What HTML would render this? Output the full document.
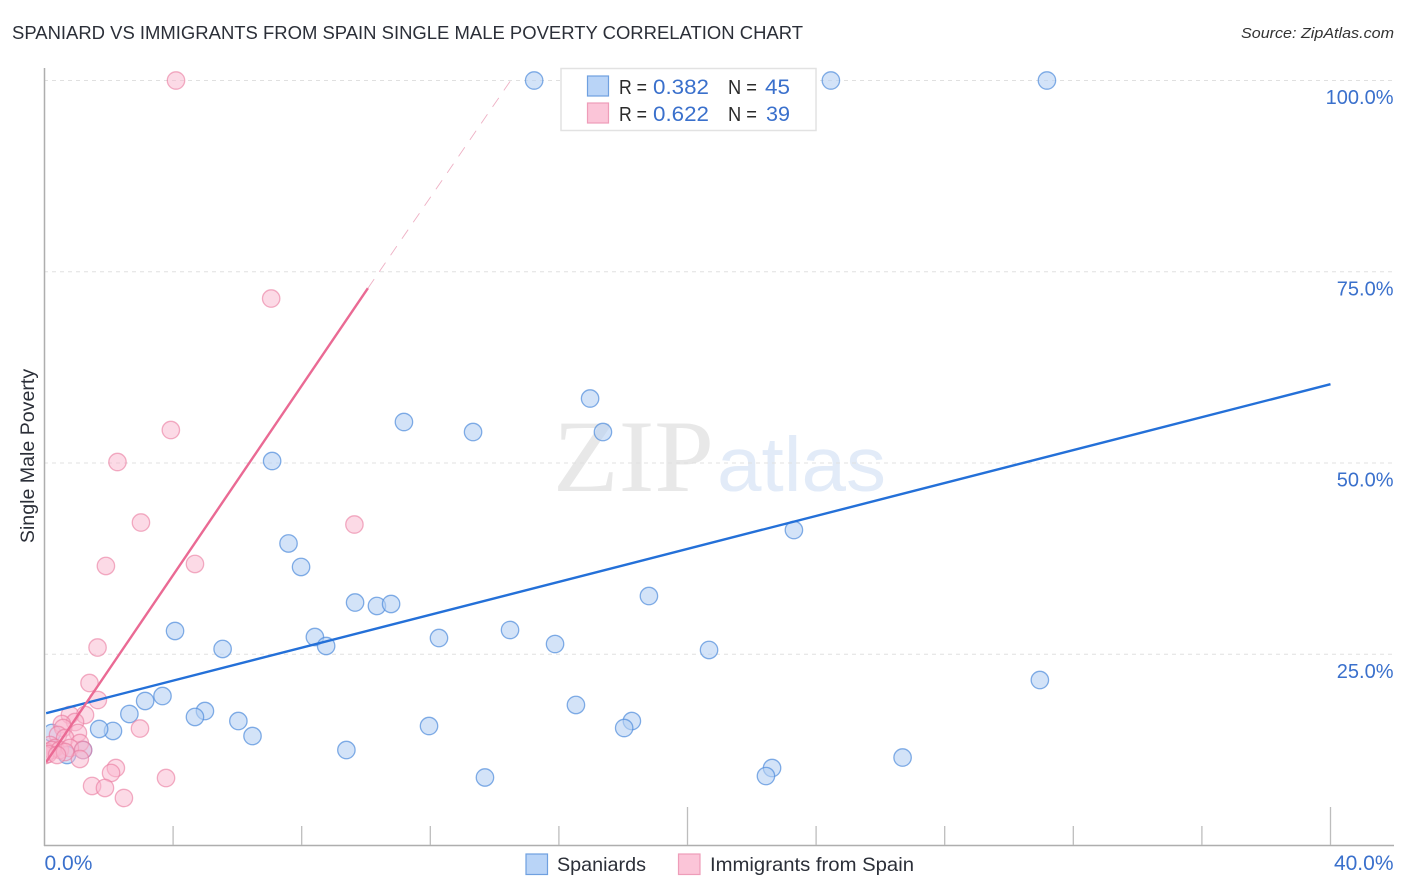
<!DOCTYPE html>
<html>
<head>
<meta charset="utf-8">
<title>Spaniard vs Immigrants from Spain Single Male Poverty Correlation Chart</title>
<style>
html,body{margin:0;padding:0;background:#fff;width:1406px;height:892px;overflow:hidden}
svg{display:block;font-family:"Liberation Sans",sans-serif}
</style>
</head>
<body>
<svg id="chart" width="1406" height="892" viewBox="0 0 1406 892" xmlns="http://www.w3.org/2000/svg">
  <defs><clipPath id="plot-clip"><rect x="46" y="60" width="1350" height="785"/></clipPath></defs>
  <rect width="1406" height="892" fill="#fff"/>
  <text x="12" y="39" font-size="18.6" fill="#2b2f38" textLength="791" lengthAdjust="spacingAndGlyphs">SPANIARD VS IMMIGRANTS FROM SPAIN SINGLE MALE POVERTY CORRELATION CHART</text>
  <text x="1394" y="38" font-size="15" font-style="italic" fill="#333" text-anchor="end" textLength="153" lengthAdjust="spacingAndGlyphs">Source: ZipAtlas.com</text>
  <g>
    <text x="553" y="491" font-family="'Liberation Serif',serif" font-size="103" fill="#e8e8e8" textLength="161" lengthAdjust="spacingAndGlyphs">ZIP</text>
    <text x="717" y="491" font-size="77" fill="#e2ebf8" textLength="169" lengthAdjust="spacingAndGlyphs">atlas</text>
  </g>
  <g id="grid"></g>
  <g id="axes"></g>
  <g id="marks" clip-path="url(#plot-clip)"></g>
  <text transform="translate(34 456) rotate(-90)" font-size="19.6" fill="#2b2f38" text-anchor="middle">Single Male Poverty</text>
  <g>
    <rect x="561" y="68.5" width="255" height="62" fill="#fff" stroke="#e2e2e2" stroke-width="1.5"/>
    <rect x="587.5" y="76" width="21" height="20" fill="#b9d4f7" stroke="#6fa0e0" stroke-width="1.2"/>
    <rect x="587.5" y="103" width="21" height="20" fill="#fbc5d8" stroke="#ee9db9" stroke-width="1.2"/>
    <text x="619" y="94" font-size="20" fill="#2b2b2b" textLength="28" lengthAdjust="spacingAndGlyphs">R =</text>
    <text x="653" y="94" font-size="21.5" fill="#3a70cc" textLength="56" lengthAdjust="spacingAndGlyphs">0.382</text>
    <text x="728" y="94" font-size="20" fill="#2b2b2b" textLength="29" lengthAdjust="spacingAndGlyphs">N =</text>
    <text x="765" y="94" font-size="21.5" fill="#3a70cc" textLength="25" lengthAdjust="spacingAndGlyphs">45</text>
    <text x="619" y="121" font-size="20" fill="#2b2b2b" textLength="28" lengthAdjust="spacingAndGlyphs">R =</text>
    <text x="653" y="121" font-size="21.5" fill="#3a70cc" textLength="56" lengthAdjust="spacingAndGlyphs">0.622</text>
    <text x="728" y="121" font-size="20" fill="#2b2b2b" textLength="29" lengthAdjust="spacingAndGlyphs">N =</text>
    <text x="766" y="121" font-size="21.5" fill="#3a70cc" textLength="24" lengthAdjust="spacingAndGlyphs">39</text>
  </g>
  <g>
    <rect x="526" y="854" width="21.5" height="20.5" fill="#b9d4f7" stroke="#6fa0e0" stroke-width="1.2"/>
    <text x="557" y="871" font-size="19.5" fill="#2b2f38" textLength="89" lengthAdjust="spacingAndGlyphs">Spaniards</text>
    <rect x="678.5" y="854" width="21.5" height="20.5" fill="#fbc5d8" stroke="#ee9db9" stroke-width="1.2"/>
    <text x="710" y="871" font-size="19.5" fill="#2b2f38" textLength="204" lengthAdjust="spacingAndGlyphs">Immigrants from Spain</text>
  </g>
</svg>
<script>
const xTickValues = [0,4,8,12,16,20,24,28,32,36,40];
const xLongTicks = [20,40];
const xTickLabels = [[0,'0.0%','start'],[40,'40.0%','end']];
const yTickValues = [25,50,75,100];
const yTickLabels = ['25.0%','50.0%','75.0%','100.0%'];

const spaniardsX = [15.23,24.46,31.18,16.97,11.18,13.33,17.37,7.08,23.31,7.59,7.98,18.80,9.66,10.34,10.78,4.06,8.41,8.76,12.27,14.48,15.88,5.54,20.67,30.96,3.67,3.13,2.64,4.99,4.68,16.53,18.27,18.03,6.03,6.47,11.96,2.13,1.70,9.39,26.69,22.63,22.44,13.70,1.20,0.70,0.23];
const spaniardsY = [100,100,100,58.43,55.36,54.05,54.05,50.26,41.24,39.48,36.41,32.61,31.76,31.31,31.57,28.04,27.25,26.08,27.12,28.17,26.34,25.69,25.56,21.63,19.54,18.89,17.19,17.58,16.80,18.37,16.27,15.36,16.27,14.31,15.62,14.97,15.23,12.48,11.50,10.13,9.08,8.89,12.48,11.83,14.71];

const immigrantsX = [4.09,7.05,3.93,2.27,3.00,9.64,1.91,4.68,1.65,1.40,1.66,1.26,0.79,0.95,0.54,0.58,1.04,2.97,0.42,0.64,1.10,0.17,0.33,0.08,0.23,0.48,0.02,0.11,0.79,1.20,1.10,2.22,2.07,3.78,1.48,1.88,2.47,0.64,0.39];
const immigrantsY = [100,71.50,54.31,50.13,42.22,41.96,36.54,36.80,25.88,21.24,19.02,17.06,17.06,16.14,15.88,15.36,14.71,15.29,14.44,14.05,13.40,13.14,12.75,12.22,12.48,12.48,11.83,11.96,12.75,12.48,11.31,10.13,9.48,8.82,7.78,7.52,6.21,12.22,11.83];

const spaniardsTrendX = [0.05,40];
const spaniardsTrendY = [17.3,60.3];
const immigrantsTrendX = [0.05,10.06];
const immigrantsTrendY = [10.9,72.85];
const immigrantsDashX = [10.06,14.5];
const immigrantsDashY = [72.85,100];

const NS = 'http://www.w3.org/2000/svg';
const sx = v => 44.5 + v * 32.15;
const sy = v => 845.5 - v * 7.65;
function mk(tag, attrs, parent, text){
  const el = document.createElementNS(NS, tag);
  for (const k in attrs) el.setAttribute(k, attrs[k]);
  if (text !== undefined) el.textContent = text;
  parent.appendChild(el);
  return el;
}
const grid = document.getElementById('grid');
const axes = document.getElementById('axes');
const marks = document.getElementById('marks');

yTickValues.forEach((v,i) => {
  const g = mk('line',{x1:44,x2:1394,y1:sy(v),y2:sy(v),stroke:'#e0e0e0','stroke-width':1,'stroke-dasharray':'4 4'},grid);
  
  
  const t = mk('text',{x:1393.5,y:sy(v)+23.5,'font-size':20,fill:'#3a70cc','text-anchor':'end'},axes,yTickLabels[i]);
  
  
});

const yAxis = mk('line',{x1:44.5,x2:44.5,y1:68,y2:846,stroke:'#aeaeae','stroke-width':1.5},axes);


const xAxis = mk('line',{x1:44,x2:1394,y1:845.5,y2:845.5,stroke:'#aeaeae','stroke-width':1.5},axes);



xTickValues.forEach(v => {
  if (v === 0) return;
  const top = xLongTicks.includes(v) ? 807 : 826;
  const t = mk('line',{x1:sx(v),x2:sx(v),y1:top,y2:845,stroke:'#bdbdbd','stroke-width':1.3},axes);
  
  
});
xTickLabels.forEach(d => {
  const px = d[2] === 'start' ? sx(d[0]) : 1393.5;
  const t = mk('text',{x:px,y:870,'font-size':21,fill:'#3a70cc','text-anchor':d[2]},axes,d[1]);
  
  
});

spaniardsX.forEach((v,i) => {
  const c = mk('circle',{cx:sx(v),cy:sy(spaniardsY[i]),r:8.7,fill:'#b5d1f4','fill-opacity':0.6,stroke:'#4f8bdc','stroke-opacity':0.7,'stroke-width':1.3},marks);
  
  
});
immigrantsX.forEach((v,i) => {
  const c = mk('circle',{cx:sx(v),cy:sy(immigrantsY[i]),r:8.7,fill:'#f9b6cd','fill-opacity':0.5,stroke:'#e9799f','stroke-opacity':0.6,'stroke-width':1.3},marks);
  
  
});

const l1 = mk('line',{x1:sx(spaniardsTrendX[0]),y1:sy(spaniardsTrendY[0]),x2:sx(spaniardsTrendX[1]),y2:sy(spaniardsTrendY[1]),stroke:'#2470d8','stroke-width':2.4},marks);


const l2 = mk('line',{x1:sx(immigrantsTrendX[0]),y1:sy(immigrantsTrendY[0]),x2:sx(immigrantsTrendX[1]),y2:sy(immigrantsTrendY[1]),stroke:'#ea6a94','stroke-width':2.4},marks);


const l3 = mk('line',{x1:sx(immigrantsDashX[0]),y1:sy(immigrantsDashY[0]),x2:sx(immigrantsDashX[1]),y2:sy(immigrantsDashY[1]),stroke:'#eeb0c4','stroke-width':0.9,'stroke-dasharray':'11 9'},marks);


</script>
</body>
</html>
